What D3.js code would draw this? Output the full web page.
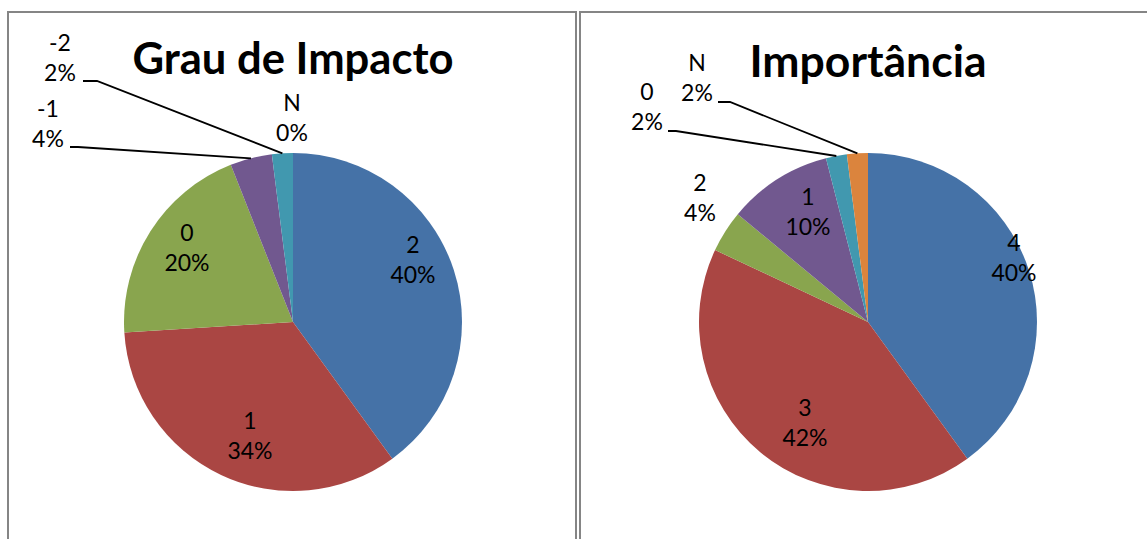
<!DOCTYPE html>
<html>
<head>
<meta charset="utf-8">
<script src="https://cdn.jsdelivr.net/npm/d3@7"></script>
<style>
  html, body { margin: 0; padding: 0; background: #fff; }
  svg { display: block; }
</style>
</head>
<body>
<svg id="chart" width="1147" height="539"></svg>
<script>
// ---- data ----
const impactTitle = "Grau de Impacto";
const impactCategories = ["2", "1", "0", "-1", "-2", "N"];
const impactValues = [40, 34, 20, 4, 2, 0];

const importanceTitle = "Importância";
const importanceCategories = ["4", "3", "2", "1", "0", "N"];
const importanceValues = [40, 42, 4, 10, 2, 2];

const sliceColors = ["#4572A7", "#AA4643", "#89A54E", "#71588F", "#4198AF", "#DB843D"];

// ---- layout ----
const panels = [
  {
    title: impactTitle, categories: impactCategories, values: impactValues,
    frame: { x: 8, y: 12, w: 568 },
    cx: 293, cy: 322, r: 169,
    titleY: 74, titleWidth: 321,
    labels: {
      "2":  { x: 413, y: 245 },
      "1":  { x: 250, y: 421 },
      "0":  { x: 187, y: 233 },
      "-1": { x: 48,  y: 109, leader: { x0: 70, y0: 147, x1: 78 } },
      "-2": { x: 60,  y: 43,  leader: { x0: 83, y0: 81,  x1: 97 } },
      "N":  { x: 292, y: 103 }
    }
  },
  {
    title: importanceTitle, categories: importanceCategories, values: importanceValues,
    frame: { x: 580, y: 12, w: 600 },
    cx: 868, cy: 322, r: 169,
    titleY: 77, titleWidth: 237,
    labels: {
      "4": { x: 1014, y: 243 },
      "3": { x: 805,  y: 408 },
      "2": { x: 700,  y: 183 },
      "1": { x: 808,  y: 197 },
      "0": { x: 647,  y: 92, leader: { x0: 668, y0: 131, x1: 676 } },
      "N": { x: 697,  y: 63, leader: { x0: 718, y0: 102, x1: 730 } }
    }
  }
];

const svg = d3.select("#chart");
const lineGap = 30;

const pie = d3.pie().sort(null).value(d => d.value);

panels.forEach(p => {
  // panel frame
  svg.append("rect")
    .attr("x", p.frame.x).attr("y", p.frame.y)
    .attr("width", p.frame.w).attr("height", 600)
    .attr("fill", "none")
    .attr("stroke", "#858585")
    .attr("stroke-width", 2);

  const data = p.categories.map((c, i) => ({ cat: c, value: p.values[i], color: sliceColors[i] }));
  const arcs = pie(data);
  const arc = d3.arc().innerRadius(0).outerRadius(p.r);
  const edge = d3.arc().innerRadius(p.r).outerRadius(p.r);

  const g = svg.append("g").attr("transform", `translate(${p.cx},${p.cy})`);

  g.selectAll("path.slice")
    .data(arcs.filter(a => a.data.value > 0))
    .join("path")
    .attr("class", "slice")
    .attr("d", arc)
    .attr("fill", d => d.data.color);

  // title
  svg.append("text")
    .attr("x", p.cx).attr("y", p.titleY)
    .attr("text-anchor", "middle")
    .attr("font-family", "Lato, 'Open Sans', sans-serif")
    .attr("font-weight", "bold")
    .attr("font-size", 43)
    .attr("textLength", p.titleWidth)
    .attr("lengthAdjust", "spacingAndGlyphs")
    .attr("fill", "#000")
    .text(p.title);

  // leader lines for labels placed outside the pie
  arcs.forEach(a => {
    const lab = p.labels[a.data.cat];
    if (!lab || !lab.leader) return;
    const [ex, ey] = edge.centroid(a);
    const pts = [[lab.leader.x0, lab.leader.y0], [lab.leader.x1, lab.leader.y0], [p.cx + ex, p.cy + ey]];
    svg.append("path")
      .attr("d", d3.line()(pts))
      .attr("fill", "none")
      .attr("stroke", "#000")
      .attr("stroke-width", 1.8);
  });

  // data labels: category and percentage
  arcs.forEach(a => {
    const lab = p.labels[a.data.cat];
    if (!lab) return;
    const t = svg.append("text")
      .attr("text-anchor", "middle")
      .attr("font-family", "Lato, 'Open Sans', sans-serif")
      .attr("font-size", 23)
      .attr("fill", "#000");
    t.append("tspan").attr("x", lab.x).attr("y", lab.y).attr("dy", "0.36em").text(a.data.cat);
    t.append("tspan").attr("x", lab.x).attr("y", lab.y + lineGap).attr("dy", "0.36em")
      .text(Math.round(a.data.value) + "%");
  });
});
</script>
</body>
</html>
